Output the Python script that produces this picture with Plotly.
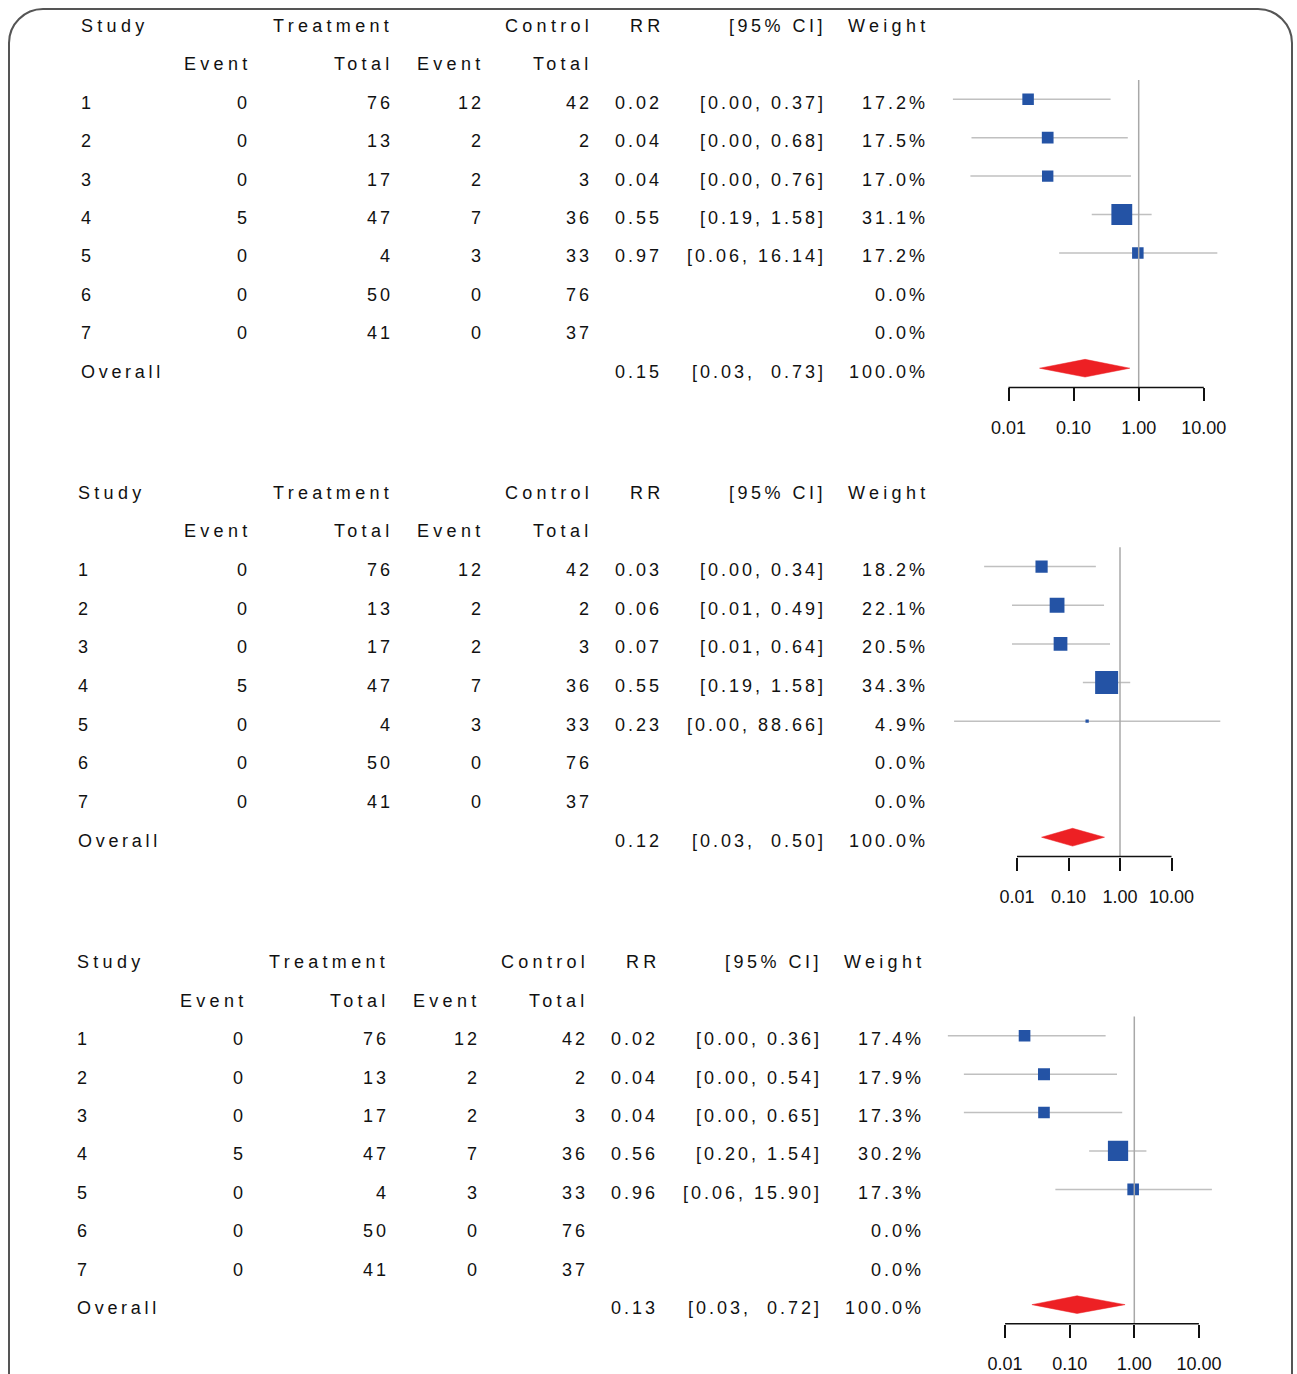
import plotly.graph_objects as go

W, H = 1297, 1374

# ---- study-level counts (shared by all three analyses) ----
studies = ["1", "2", "3", "4", "5", "6", "7"]
treat_event = [0, 0, 0, 5, 0, 0, 0]
treat_total = [76, 13, 17, 47, 4, 50, 41]
ctrl_event = [12, 2, 2, 7, 3, 0, 0]
ctrl_total = [42, 2, 3, 36, 33, 76, 37]

# ---- analysis A ----
rr_a = [0.02, 0.04, 0.04, 0.55, 0.97]
lo_a = [0.0014, 0.0027, 0.0026, 0.19, 0.06]
hi_a = [0.37, 0.68, 0.76, 1.58, 16.14]
weight_a = [17.2, 17.5, 17.0, 31.1, 17.2, 0.0, 0.0]
overall_a = [0.15, 0.03, 0.73, 100.0]

# ---- analysis B ----
rr_b = [0.03, 0.06, 0.07, 0.55, 0.23]
lo_b = [0.0023, 0.008, 0.008, 0.19, 0.0006]
hi_b = [0.34, 0.49, 0.64, 1.58, 88.66]
weight_b = [18.2, 22.1, 20.5, 34.3, 4.9, 0.0, 0.0]
overall_b = [0.12, 0.03, 0.50, 100.0]

# ---- analysis C ----
rr_c = [0.02, 0.04, 0.04, 0.56, 0.96]
lo_c = [0.0013, 0.0023, 0.0023, 0.20, 0.06]
hi_c = [0.36, 0.54, 0.65, 1.54, 15.90]
weight_c = [17.4, 17.9, 17.3, 30.2, 17.3, 0.0, 0.0]
overall_c = [0.13, 0.026, 0.72, 100.0]

tick_vals = [0.01, 0.1, 1, 10]
tick_text = ["0.01", "0.10", "1.00", "10.00"]

analyses = [
    (rr_a, lo_a, hi_a, weight_a, overall_a),
    (rr_b, lo_b, hi_b, weight_b, overall_b),
    (rr_c, lo_c, hi_c, weight_c, overall_c),
]

# layout geometry of each block, in pixels
geom = [
    dict(row0=99.5, sp=38.5, one=1138.7, dec=65.1, dx=0, study_x=79),
    dict(row0=567.8, sp=38.75, one=1120.0, dec=51.5, dx=0, study_x=76),
    dict(row0=1038.0, sp=38.5, one=1134.3, dec=64.6, dx=-4, study_x=75),
]
TEXT_OFF = 3.4  # table text sits slightly below the plotted row centre

# right edges of table columns (pixels)
col_ev_t, col_tot_t, col_ev_c, col_tot_c = 252, 395, 486, 594
col_rr, col_ci, col_wt = 664, 828, 930

FONT = "Liberation Sans, Arial, Helvetica, sans-serif"
TXT = "#111111"
BLUE = "#2453a5"
RED = "#ed2024"
CI_GREY = "#c0c0c0"
REF_GREY = "#a8a8a8"
LS_NUM = 3.0   # tracking for numeric cells
LS_WORD = 4.3  # tracking for word labels


def px(x):
    return x / W


def py(y):
    return 1 - y / H


def spaced(t, ls):
    return f'<span style="letter-spacing:{ls}px">{t}</span>'


fig = go.Figure()
annotations = []
shapes = []
X_LEFT, X_RIGHT = 935, 1245

for k, ((rr, lo, hi, wt, ov), g) in enumerate(zip(analyses, geom), start=1):
    xa = "x" if k == 1 else f"x{k}"
    ya = "y" if k == 1 else f"y{k}"
    top = g["row0"] - 0.5 * g["sp"]
    bot = g["row0"] + 7.5 * g["sp"]
    rng = [(X_LEFT - g["one"]) / g["dec"], (X_RIGHT - g["one"]) / g["dec"]]

    fig.update_layout(**{
        ("xaxis" if k == 1 else f"xaxis{k}"): dict(
            type="log", domain=[px(X_LEFT), px(X_RIGHT)], range=rng,
            anchor=ya, tickvals=tick_vals, ticktext=tick_text,
            ticks="outside", ticklen=13, tickwidth=1.5, tickcolor="#111",
            showgrid=False, zeroline=False, showline=False,
            ticklabelstandoff=11,
            tickfont=dict(family=FONT, size=18, color=TXT),
        ),
        ("yaxis" if k == 1 else f"yaxis{k}"): dict(
            domain=[py(bot), py(top)], range=[7.5, -0.5], anchor=xa,
            visible=False, showgrid=False, zeroline=False,
        ),
    })

    n = len(rr)
    rows = list(range(n))

    # confidence interval whiskers
    cx, cy = [], []
    for i in rows:
        cx += [lo[i], hi[i], None]
        cy += [i, i, None]
    fig.add_trace(go.Scatter(
        x=cx, y=cy, xaxis=xa, yaxis=ya, mode="lines",
        line=dict(color=CI_GREY, width=1.5), hoverinfo="skip",
    ))

    # weighted point estimates (box side proportional to weight)
    fig.add_trace(go.Scatter(
        x=rr, y=rows, xaxis=xa, yaxis=ya, mode="markers",
        marker=dict(symbol="square", color=BLUE, opacity=1,
                    size=[0.67 * w for w in wt[:n]], line=dict(width=0)),
    ))

    # pooled estimate diamond
    est, olo, ohi, owt = ov
    h = 0.23
    fig.add_trace(go.Scatter(
        x=[olo, est, ohi, est, olo], y=[7, 7 - h, 7, 7 + h, 7],
        xaxis=xa, yaxis=ya, mode="lines", fill="toself",
        fillcolor=RED, line=dict(color=RED, width=0.5),
    ))

    # null line and axis line
    shapes.append(dict(type="line", xref=xa, yref=f"{ya} domain",
                       x0=1, x1=1, y0=0, y1=1,
                       line=dict(color=REF_GREY, width=1.5)))
    shapes.append(dict(type="line", xref=xa, yref=f"{ya} domain",
                       x0=tick_vals[0], x1=tick_vals[-1], y0=0, y1=0,
                       line=dict(color="#111", width=1.5)))

    dx = g["dx"]

    def add(text, x, r, anchor="right", ls=LS_NUM, g=g, dx=dx):
        ypix = g["row0"] + r * g["sp"] + TEXT_OFF
        annotations.append(dict(
            text=spaced(text, ls), x=px(x + dx if anchor == "right" else x),
            xref="paper", y=py(ypix), yref="paper",
            xanchor=anchor, yanchor="middle", showarrow=False,
            font=dict(family=FONT, size=18, color=TXT),
        ))

    # headers
    add("Study", g["study_x"], -2, "left", LS_WORD)
    add("Treatment", col_tot_t, -2, ls=LS_WORD)
    add("Control", col_tot_c + 1, -2, ls=LS_WORD)
    add("RR", col_rr + 3, -2, ls=LS_WORD)
    add("[95% CI]", col_ci, -2, ls=LS_NUM + 0.5)
    add("Weight", col_wt + 2, -2, ls=LS_WORD)
    add("Event", col_ev_t + 2, -1, ls=LS_WORD)
    add("Total", col_tot_t + 1, -1, ls=LS_WORD)
    add("Event", col_ev_c + 1, -1, ls=LS_WORD)
    add("Total", col_tot_c + 1, -1, ls=LS_WORD)

    # study rows
    for i, s in enumerate(studies):
        add(s, g["study_x"], i, "left")
        add(str(treat_event[i]), col_ev_t, i)
        add(str(treat_total[i]), col_tot_t, i)
        add(str(ctrl_event[i]), col_ev_c, i)
        add(str(ctrl_total[i]), col_tot_c, i)
        if i < n:
            add(f"{rr[i]:.2f}", col_rr, i)
            add(f"[{lo[i]:.2f}, {hi[i]:.2f}]", col_ci, i)
        add(f"{wt[i]:.1f}%", col_wt, i)

    # overall row
    add("Overall", g["study_x"], 7, "left", LS_WORD - 0.6)
    add(f"{est:.2f}", col_rr, 7)
    add(f"[{olo:.2f},\u00a0 {ohi:.2f}]", col_ci, 7)
    add(f"{owt:.1f}%", col_wt, 7)

# rounded outer frame (open at the bottom)
r = 34
L, R, T = 9, 1292, 9
path = (
    f"M {px(L)},{py(H + 5)} L {px(L)},{py(T + r)} "
    f"C {px(L)},{py(T + r * 0.45)} {px(L + r * 0.45)},{py(T)} {px(L + r)},{py(T)} "
    f"L {px(R - r)},{py(T)} "
    f"C {px(R - r * 0.45)},{py(T)} {px(R)},{py(T + r * 0.45)} {px(R)},{py(T + r)} "
    f"L {px(R)},{py(H + 5)}"
)
shapes.append(dict(type="path", xref="paper", yref="paper", path=path,
                   line=dict(color="#555555", width=2)))

fig.update_layout(
    width=W, height=H, autosize=False,
    margin=dict(l=0, r=0, t=0, b=0),
    paper_bgcolor="white", plot_bgcolor="white",
    showlegend=False, annotations=annotations, shapes=shapes,
)

fig.write_html("out.html")
